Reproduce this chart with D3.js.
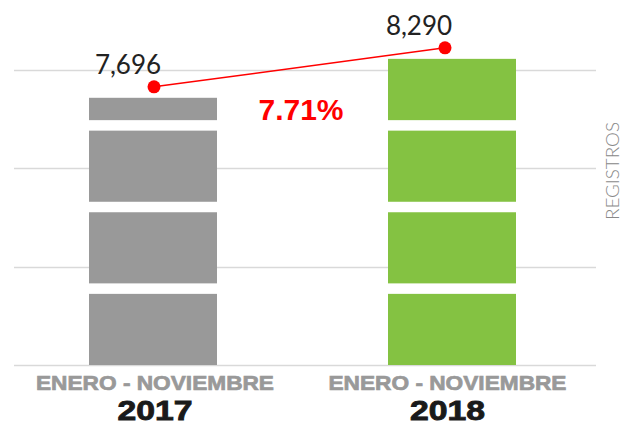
<!DOCTYPE html>
<html>
<head>
<meta charset="utf-8">
<script src="https://cdn.jsdelivr.net/npm/d3@7"></script>
<style>
  html, body { margin: 0; padding: 0; background: #fff; }
  svg { display: block; }
</style>
</head>
<body>
<svg id="chart" width="638" height="426"></svg>
<script>
// ---- data ----
const years = ["2017", "2018"];
const values = [7696, 8290];
const periodLabel = "ENERO - NOVIEMBRE";
const changeLabel = "7.71%";
const axisTitle = "REGISTROS";
const gridValues = [3620, 5120, 6620, 8120];
const barColors = ["#999999", "#84c242"];

// ---- layout ----
const svg = d3.select("#chart");
const baseY = 365, topY = 70;
const y = d3.scaleLinear().domain([3620, 8120]).range([baseY, topY]);
const x = d3.scalePoint().domain(years).range([153, 452]);
const xDot = d3.scalePoint().domain(years).range([154, 445]);
const xLab = d3.scalePoint().domain(years).range([155, 447.5]);
const barW = 128;
const block = 1085, gap = 160; // stacked block pattern (data units)

// gridlines
svg.append("g").selectAll("line").data(gridValues).join("line")
  .attr("x1", 14).attr("x2", 596)
  .attr("y1", d => Math.round(y(d)) + 0.5).attr("y2", d => Math.round(y(d)) + 0.5)
  .attr("stroke", "#d9d9d9").attr("stroke-width", 1.6);

// segmented bars
const data = years.map((yr, i) => ({ yr, v: values[i], color: barColors[i] }));
data.forEach(d => {
  const segs = [];
  let s = y.domain()[0];
  while (s < d.v) {
    const e = Math.min(s + block, d.v);
    segs.push([s, e]);
    s = e + gap;
  }
  svg.append("g").selectAll("rect").data(segs).join("rect")
    .attr("x", x(d.yr) - barW / 2)
    .attr("width", barW)
    .attr("y", q => y(q[1]))
    .attr("height", q => y(q[0]) - y(q[1]))
    .attr("fill", d.color);
});

// connecting line and dots
const dotOffset = 11;
svg.append("path")
  .datum(data)
  .attr("d", d3.line().x(d => xDot(d.yr)).y(d => y(d.v) - dotOffset))
  .attr("fill", "none").attr("stroke", "#ff0000").attr("stroke-width", 1.5);
svg.append("g").selectAll("circle").data(data).join("circle")
  .attr("cx", d => xDot(d.yr)).attr("cy", d => y(d.v) - dotOffset)
  .attr("r", 6.5).attr("fill", "#ff0000");

// value labels
svg.append("g").selectAll("text").data(data).join("text")
  .attr("x", d => xDot(d.yr) - 26)
  .attr("y", d => y(d.v) - dotOffset - 13)
  .attr("text-anchor", "middle")
  .attr("font-family", "Lato, 'Open Sans', sans-serif")
  .attr("font-size", 26)
  .attr("fill", "#222")
  .text(d => d3.format(",")(d.v));

// change label
svg.append("text")
  .attr("x", 301).attr("y", 120)
  .attr("text-anchor", "middle")
  .attr("font-family", "'Liberation Sans', Arial, sans-serif")
  .attr("font-weight", "bold")
  .attr("font-size", 30)
  .attr("fill", "#ff0000")
  .text(changeLabel);

// category labels
const lab = svg.append("g").selectAll("g").data(data).join("g");
lab.append("text")
  .attr("x", d => xLab(d.yr))
  .attr("y", 390)
  .attr("text-anchor", "middle")
  .attr("font-family", "'Liberation Sans', Arial, sans-serif")
  .attr("font-weight", "bold")
  .attr("font-size", 20)
  .attr("fill", "#999999")
  .attr("stroke", "#999999")
  .attr("stroke-width", 0.7)
  .attr("textLength", 238)
  .attr("lengthAdjust", "spacingAndGlyphs")
  .text(periodLabel);
lab.append("text")
  .attr("x", d => xLab(d.yr))
  .attr("y", 420)
  .attr("text-anchor", "middle")
  .attr("font-family", "'Liberation Sans', Arial, sans-serif")
  .attr("font-weight", "bold")
  .attr("font-size", 28)
  .attr("fill", "#1a1a1a")
  .attr("stroke", "#1a1a1a")
  .attr("stroke-width", 0.9)
  .attr("textLength", 75)
  .attr("lengthAdjust", "spacingAndGlyphs")
  .text(d => d.yr);

// axis title
svg.append("text")
  .attr("transform", "translate(619,171) rotate(-90)")
  .attr("text-anchor", "middle")
  .attr("font-family", "Lato, 'Open Sans', sans-serif")
  .attr("font-weight", 300)
  .attr("font-size", 17)
  .attr("fill", "#888")
  .attr("textLength", 98)
  .attr("lengthAdjust", "spacingAndGlyphs")
  .text(axisTitle);
</script>
</body>
</html>
